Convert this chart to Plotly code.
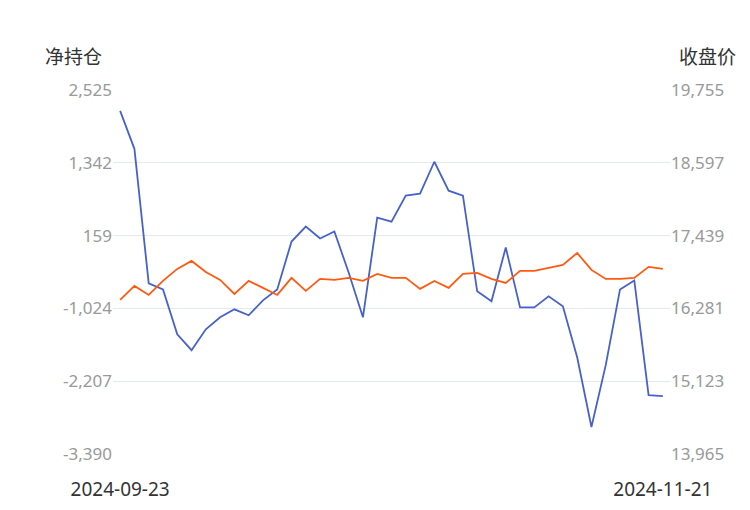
import plotly.graph_objects as go

dates = (["2024-09-%02d" % d for d in [23, 24, 25, 26, 27, 30]]
         + ["2024-10-%02d" % d for d in [8, 9, 10, 11, 14, 15, 16, 17, 18, 21, 22, 23, 24, 25, 28, 29, 30, 31]]
         + ["2024-11-%02d" % d for d in [1, 4, 5, 6, 7, 8, 11, 12, 13, 14, 15, 18, 19, 20, 21]])

net_position = [2185, 1569, -618, -716, -1444, -1703, -1363, -1169, -1039, -1136,
                -893, -716, 63, 306, 111, 225, -440, -1169, 451, 387,
                808, 840, 1359, 889, 808, -747, -909, -35, -1007, -1007,
                -828, -990, -1817, -2951, -1946, -716, -569, -2432, -2448]

close_price = [16416, 16639, 16495, 16718, 16909, 17036, 16861, 16734, 16511, 16718,
               16607, 16495, 16766, 16559, 16750, 16734, 16766, 16718, 16829, 16766,
               16766, 16591, 16718, 16607, 16829, 16845, 16750, 16686, 16877, 16877,
               16925, 16972, 17163, 16893, 16750, 16750, 16766, 16941, 16909]

left_ticks = [2525, 1342, 159, -1024, -2207, -3390]
right_ticks = [19755, 18597, 17439, 16281, 15123, 13965]

fig = go.Figure()
fig.add_trace(go.Scatter(x=dates, y=net_position, mode="lines",
                         line=dict(color="#4762c8", width=1.8), yaxis="y"))
fig.add_trace(go.Scatter(x=dates, y=close_price, mode="lines",
                         line=dict(color="#ff5a10", width=1.8), yaxis="y2"))

tickfont = dict(family="Noto Sans", size=17, color="#999999")
fig.update_layout(
    width=750, height=510,
    margin=dict(l=105, r=88, t=82, b=64),
    plot_bgcolor="white", paper_bgcolor="white",
    showlegend=False,
    xaxis=dict(type="category", range=[-0.5, len(dates) - 0.5], automargin=False,
               tickvals=[dates[0], dates[-1]], ticktext=[dates[0], dates[-1]],
               showgrid=False, ticks="", showline=False, ticklabelstandoff=22,
               tickfont=dict(family="Noto Sans", size=19, color="#333333")),
    yaxis=dict(range=[left_ticks[-1], left_ticks[0]], tickvals=left_ticks, automargin=False,
               ticktext=[f"{v:,}" for v in left_ticks], gridcolor="#e6e9f0",
               zeroline=False, tickfont=tickfont),
    yaxis2=dict(range=[right_ticks[-1], right_ticks[0]], tickvals=right_ticks, automargin=False,
                ticktext=[f"{v:,}" for v in right_ticks], overlaying="y", side="right",
                showgrid=False, zeroline=False, tickfont=tickfont),
    annotations=[
        dict(text="净持仓", x=-0.126, y=1.096, xanchor="left", yanchor="middle"),
        dict(text="收盘价", x=1.122, y=1.096, xanchor="right", yanchor="middle"),
    ],
)
fig.update_annotations(xref="paper", yref="paper", showarrow=False,
                       font=dict(family="Noto Sans CJK SC", size=19, color="#333333"))

fig.write_html("out.html")
